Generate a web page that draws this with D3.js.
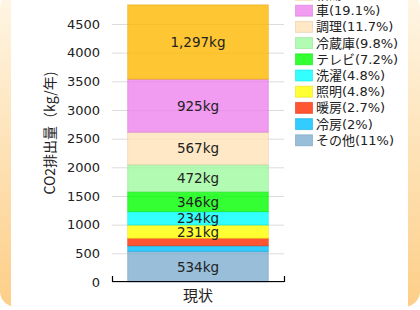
<!DOCTYPE html>
<html><head><meta charset="utf-8">
<script src="https://cdn.jsdelivr.net/npm/d3@7"></script>
<style>body{margin:0;background:#fff}svg{display:block}text{font-family:"DejaVu Sans","Noto Sans CJK JP",sans-serif}</style>
</head><body><svg id="c" width="420" height="310"></svg>
<script>
const categories = ["給湯","車","調理","冷蔵庫","テレビ","洗濯","照明","暖房","冷房","その他"];
const values = [1297,925,567,472,346,234,231,131,97,534];
const percents = ["26.8%","19.1%","11.7%","9.8%","7.2%","4.8%","4.8%","2.7%","2%","11%"];
const colors = ["#ffb800","#ee82ee","#ffe2b6","#9ffa9f","#00ff00","#00ffff","#ffff00","#ff2a00","#00bfff","#7eaed0"];
const groups = ["現状"];
const yTicks = [0,500,1000,1500,2000,2500,3000,3500,4000,4500,5000];
const yLabel = "CO2排出量（kg/年)";

const svg = d3.select("#c");
// frame
const defs = svg.append("defs");
const g1 = defs.append("linearGradient").attr("id","fr").attr("x1",0).attr("y1",0).attr("x2",0).attr("y2",1);
g1.append("stop").attr("offset",0).attr("stop-color","#fef6e6");
g1.append("stop").attr("offset",1).attr("stop-color","#fdce87");
svg.append("rect").attr("x",0).attr("y",-8).attr("width",420).attr("height",315).attr("rx",16).attr("fill","url(#fr)");
svg.append("rect").attr("x",11).attr("y",0).attr("width",397).attr("height",310).attr("fill","#fff");

const x = d3.scaleBand().domain(groups).range([112,284]).padding(0.1);
const y = d3.scaleLinear().domain([0,4500]).range([282,24]);

// grid + y axis
const ya = svg.append("g").attr("transform","translate(112,0)")
  .call(d3.axisLeft(y).tickValues(yTicks).tickSize(-172).tickPadding(12).tickFormat(d3.format("d")));
ya.select(".domain").remove();
ya.selectAll(".tick line").attr("stroke","#dcdcdc");
ya.selectAll(".tick text").attr("font-size",13).attr("fill","#222");

// stacked bar
const row = {group: groups[0]};
categories.forEach((c,i)=>row[c]=values[i]);
const keys = categories.slice().reverse();
const stack = d3.stack().keys(keys)([row]);
const colorOf = c => colors[categories.indexOf(c)];
const segs = svg.append("g");
stack.forEach(layer=>{
  const d = layer[0];
  const col = colorOf(layer.key);
  segs.append("rect")
    .attr("x",x(groups[0])).attr("width",x.bandwidth())
    .attr("y",y(d[1])).attr("height",y(d[0])-y(d[1]))
    .attr("fill",col).attr("fill-opacity",0.8)
    .attr("stroke",d3.color(col).darker(0.4)).attr("stroke-opacity",0.45).attr("stroke-width",1);
});
stack.forEach(layer=>{
  const d = layer[0];
  const v = d[1]-d[0];
  if (v < 200) return;
  segs.append("text")
    .attr("x",x(groups[0])+x.bandwidth()/2).attr("y",(y(d[0])+y(d[1]))/2)
    .attr("text-anchor","middle").attr("dominant-baseline","central")
    .attr("font-size",13.5).attr("fill","#222")
    .text(d3.format(",")(v)+"kg");
});

// x axis
const xa = svg.append("g").attr("transform","translate(0,282)")
  .call(d3.axisBottom(x).tickSize(0).tickSizeOuter(6).tickPadding(8));
xa.select(".domain").attr("stroke","#000").attr("stroke-width",1.2).attr("transform","scale(1,-1)");
xa.selectAll(".tick text").attr("font-size",15).attr("fill","#222");

// y label
svg.append("text").attr("transform","translate(49,133) rotate(-90)")
  .attr("text-anchor","middle").attr("dominant-baseline","central")
  .style("font-family","'Noto Sans CJK JP',sans-serif")
  .attr("font-size",14).attr("fill","#222").text(yLabel);

// legend
const lg = svg.append("g");
categories.forEach((c,i)=>{
  const cy = -5.5 + i*16.2;
  lg.append("rect").attr("x",295.5).attr("y",cy-5.5).attr("width",17).attr("height",11)
    .attr("fill",colors[i]).attr("fill-opacity",0.8)
    .attr("stroke",d3.color(colors[i]).darker(0.4)).attr("stroke-opacity",0.5);
  lg.append("text").attr("x",316).attr("y",cy).attr("dominant-baseline","central")
    .attr("font-size",13).attr("fill","#222").text(c+"("+percents[i]+")");
});
</script></body></html>
